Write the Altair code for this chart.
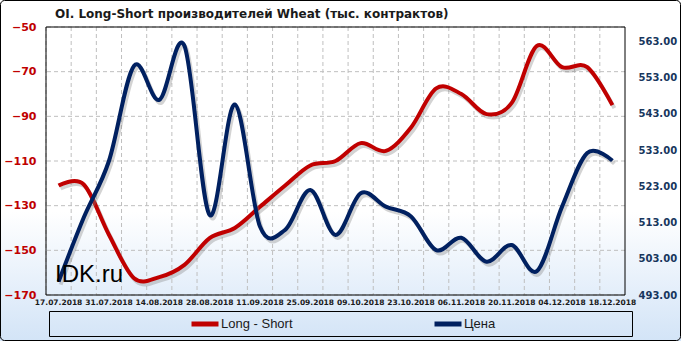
import json
import altair as alt
import pandas as pd

# ---------------- data ----------------
dates = ["17.07.2018", "24.07.2018", "31.07.2018", "07.08.2018", "14.08.2018",
         "21.08.2018", "28.08.2018", "04.09.2018", "11.09.2018", "18.09.2018",
         "25.09.2018", "02.10.2018", "09.10.2018", "16.10.2018", "23.10.2018",
         "30.10.2018", "06.11.2018", "13.11.2018", "20.11.2018", "27.11.2018",
         "04.12.2018", "11.12.2018", "18.12.2018"]
long_short = [-121, -120.5, -143, -162.5, -162, -156.5, -144.5, -140, -130.5, -121,
              -112, -110, -102, -105.5, -95, -77.5, -80, -89, -84, -58.5,
              -68, -68, -85]
price = [496.7, 514.4, 530.0, 556.3, 546.9, 561.8, 515.1, 545.6, 511.9, 511.0,
         522.0, 509.6, 521.1, 517.4, 514.7, 505.4, 508.8, 502.2, 506.8, 499.6,
         517.4, 532.2, 530.1]
series_names = ["Long - Short", "Цена"]
series_colors = ["#C00000", "#002060"]
left_ticks = [-170, -150, -130, -110, -90, -70, -50]
left_domain = [-170, -50]
right_ticks = [493, 503, 513, 523, 533, 543, 553, 563]
right_domain = [493, 567]
title_text = "OI. Long-Short производителей  Wheat (тыс. контрактов)"
watermark = "IDK.ru"

df = pd.DataFrame({"date": dates, "ls": long_short, "price": price})
grid_df = pd.DataFrame({"v": left_ticks})
one = pd.DataFrame({"a": [0]})

W, H = 579, 268
PL, PT, PR, PB = 46, 27, 56, 46
TOTAL_W, TOTAL_H = 681, 341

GRID = "#BFBFBF"
DASH = [4, 3]

label_expr = "indexof(%s, datum.value) %% 2 == 0 ? datum.value : ''" % json.dumps(dates)

x_scale = alt.Scale(type="band", paddingInner=0, paddingOuter=0)
x_axis = alt.Axis(title=None, grid=False, ticks=False, domain=False, labelAngle=0,
                  labelOverlap=False, labelExpr=label_expr, labelFont="DejaVu Sans",
                  labelFontWeight="bold", labelFontSize=7.5, labelColor="#1a1a1a",
                  labelPadding=3, zindex=1)

left_axis = alt.Axis(title=None, orient="left", grid=False, ticks=False, domain=False,
                     values=left_ticks, labelFont="DejaVu Sans", labelFontWeight="bold",
                     labelFontSize=11, labelColor="#C00000", labelPadding=10,
                     labelFlush=False, zindex=1)
right_axis = alt.Axis(title=None, orient="right", grid=False, ticks=False, domain=False,
                      values=right_ticks, format=".2f", labelFont="DejaVu Sans",
                      labelFontWeight="bold", labelFontSize=10, labelColor="#17365D",
                      labelPadding=13, labelFlush=False, zindex=1)

left_scale = alt.Scale(domain=left_domain, nice=False, zero=False)
right_scale = alt.Scale(domain=right_domain, nice=False, zero=False)

color_scale = alt.Scale(domain=series_names, range=series_colors)
legend = alt.Legend(title=None, orient="none", legendX=143, legendY=281,
                    direction="horizontal", symbolType="stroke", symbolStrokeWidth=5,
                    symbolSize=729, labelFont="Liberation Sans", labelFontSize=13,
                    labelColor="#1a1a1a", columnPadding=131, padding=0, labelOffset=0,
                    zindex=1)

x_line = alt.X("date:N", sort=dates, scale=x_scale, axis=x_axis, bandPosition=0.5)

# ---------------- background ----------------
bg = alt.Chart(one).mark_rect(
    color=alt.Gradient(gradient="linear",
                       stops=[alt.GradientStop(color="#FFFFFF", offset=0),
                              alt.GradientStop(color="#FFFFFF", offset=0.62),
                              alt.GradientStop(color="#D3E4F7", offset=1)],
                       x1=0, x2=0, y1=0, y2=1)
).encode(x=alt.value(-PL), x2=alt.value(TOTAL_W - PL),
         y=alt.value(-PT), y2=alt.value(TOTAL_H - PT))

# ---------------- red group (left axis) ----------------
hgrid = alt.Chart(grid_df).mark_rule(color=GRID, strokeDash=DASH, strokeWidth=1).encode(
    y=alt.Y("v:Q", scale=left_scale, axis=left_axis))
vgrid = alt.Chart(df).mark_rule(color=GRID, strokeDash=DASH, strokeWidth=1).encode(
    x=alt.X("date:N", sort=dates, scale=x_scale, axis=x_axis, bandPosition=0))

red_base = alt.Chart(df).transform_calculate(series=json.dumps(series_names[0]))
red_shadow = red_base.mark_line(interpolate="cardinal", color="#808080", opacity=0.35,
                                strokeWidth=4, xOffset=2, yOffset=3).encode(
    x=x_line, y=alt.Y("ls:Q", scale=left_scale, axis=left_axis))
red_line = red_base.mark_line(interpolate="cardinal", strokeWidth=4).encode(
    x=x_line, y=alt.Y("ls:Q", scale=left_scale, axis=left_axis),
    color=alt.Color("series:N", scale=color_scale, legend=legend))
red_group = alt.layer(hgrid, vgrid, red_shadow, red_line)

# ---------------- blue group (right axis) ----------------
blue_base = alt.Chart(df).transform_calculate(series=json.dumps(series_names[1]))
blue_shadow = blue_base.mark_line(interpolate="cardinal", color="#808080", opacity=0.35,
                                  strokeWidth=4, xOffset=2, yOffset=3).encode(
    x=x_line, y=alt.Y("price:Q", scale=right_scale, axis=right_axis))
blue_line = blue_base.mark_line(interpolate="cardinal", strokeWidth=4).encode(
    x=x_line, y=alt.Y("price:Q", scale=right_scale, axis=right_axis),
    color=alt.Color("series:N", scale=color_scale, legend=legend))
blue_group = alt.layer(blue_shadow, blue_line)

# ---------------- decorations ----------------
plot_border = alt.Chart(one).mark_rect(fillOpacity=0, stroke="black", strokeWidth=1).encode(
    x=alt.value(0), x2=alt.value(W), y=alt.value(0), y2=alt.value(H))
legend_box = alt.Chart(one).mark_rect(fillOpacity=0, stroke="black", strokeWidth=1).encode(
    x=alt.value(3.5), x2=alt.value(586.5), y=alt.value(284.5), y2=alt.value(309.5))
outer_border = alt.Chart(one).mark_rect(fillOpacity=0, stroke="black", strokeWidth=1,
                                        cornerRadius=4).encode(
    x=alt.value(-PL + 0.5), x2=alt.value(TOTAL_W - PL - 0.5),
    y=alt.value(-PT + 0.5), y2=alt.value(TOTAL_H - PT - 0.5))
wm = alt.Chart(one).mark_text(text=watermark, align="left", baseline="alphabetic",
                              font="Liberation Sans", fontSize=24, color="#000000").encode(
    x=alt.value(9), y=alt.value(255))

chart = alt.layer(bg, red_group, blue_group, plot_border, legend_box, wm, outer_border).resolve_scale(
    y="independent"
).properties(
    width=W, height=H,
    title=alt.TitleParams(text=title_text, anchor="start", frame="group", dx=9, offset=-21,
                          font="DejaVu Sans", fontSize=12, fontWeight="bold",
                          color="#1a1a1a", zindex=1),
    autosize=alt.AutoSizeParams(type="none"),
    padding={"left": PL, "top": PT, "right": PR, "bottom": PB},
    background="white",
).configure_view(stroke=None)

chart.save("out.html", embed_options={"renderer": "svg", "actions": False})
